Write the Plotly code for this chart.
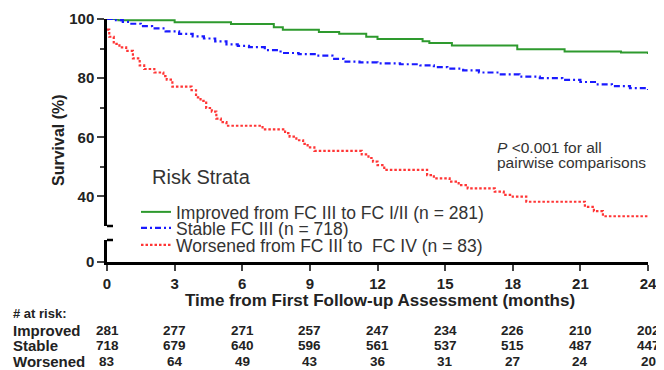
import plotly.graph_objects as go

# ---- data ----
months = [0, 3, 6, 9, 12, 15, 18, 21, 24]

improved_t = [0, 0.5, 3.0, 5.5, 7.4, 7.8, 9.4, 10.3, 11.5, 12.0, 14.0, 14.3, 15.3, 18.2, 20.3, 22.8, 24]
improved_s = [100, 99.6, 98.9, 98.3, 97.2, 96.4, 95.6, 95.0, 94.0, 93.2, 92.5, 91.9, 91.0, 89.8, 89.0, 88.7, 88.2]

stable_t = [0, 0.3, 0.7, 1.0, 1.5, 2.0, 2.6, 3.2, 3.8, 4.3, 4.8, 5.3, 5.8, 6.3, 7.0, 7.7, 8.5, 9.3,
            10.0, 10.5, 11.2, 12.0, 13.0, 13.9, 14.5, 15.1, 15.8, 16.5, 17.4, 18.3, 19.2, 20.2,
            21.0, 21.7, 22.4, 23.2, 24]
stable_s = [100, 99.6, 99.0, 98.4, 97.6, 96.8, 95.8, 95.0, 94.1, 93.4, 92.4, 91.4, 90.9, 90.5, 89.5,
            88.5, 88.1, 87.6, 86.5, 85.6, 85.3, 85.0, 84.7, 84.3, 83.7, 83.2, 82.6, 81.9, 81.3, 80.5,
            80.0, 79.4, 78.7, 77.9, 77.3, 76.6, 76.0]

worsened_t = [0, 0.1, 0.3, 0.55, 0.85, 1.15, 1.45, 1.65, 2.1, 2.5, 2.65, 2.9, 3.75, 3.95, 4.15, 4.4,
              4.65, 4.85, 5.05, 5.3, 6.9, 7.9, 8.1, 8.4, 8.7, 8.9, 9.2, 11.3, 11.6, 11.8, 12.0, 12.3,
              14.2, 14.5, 15.2, 15.6, 16.0, 17.2, 17.6, 18.0, 18.6, 21.2, 21.6, 22.0, 24]
worsened_s = [96.4, 94.0, 91.6, 90.4, 89.2, 86.7, 84.3, 83.1, 81.9, 80.7, 79.5, 77.1, 75.9, 73.5, 72.3,
              69.9, 68.7, 66.3, 65.1, 63.9, 62.7, 61.4, 60.2, 59.0, 57.8, 56.6, 55.4, 54.2, 53.0, 51.8,
              50.6, 49.0, 47.2, 46.1, 45.0, 43.8, 42.7, 41.6, 40.5, 39.9, 38.2, 36.5, 35.0, 33.3, 33.3]

series_names = ["Improved from FC III to FC I/II (n = 281)",
                "Stable FC III (n = 718)",
                "Worsened from FC III to  FC IV (n = 83)"]

risk_labels = ["Improved", "Stable", "Worsened"]
risk_improved = [281, 277, 271, 257, 247, 234, 226, 210, 202]
risk_stable = [718, 679, 640, 596, 561, 537, 515, 487, 447]
risk_worsened = [83, 64, 49, 43, 36, 31, 27, 24, 20]

# ---- figure geometry (page body has an 8px default margin) ----
FONT = "Liberation Sans, Arial, sans-serif"
OFF = 8
W, H = 664 - OFF, 370 - OFF
ML, MR, MT, MB = 107 - OFF, 16, 19 - OFF, 108
PH = H - MT - MB
PW = W - ML - MR

def py(pix):
    """reference-image pixel y -> paper y"""
    return (H - MB - (pix - OFF)) / PH

def px(pix):
    return (pix - OFF - ML) / PW

fig = go.Figure()
fig.add_trace(go.Scatter(x=improved_t, y=improved_s, mode="lines", line_shape="hv",
                         line=dict(color="#2e9a2e", width=2), name=series_names[0],
                         yaxis="y", legend="legend"))
fig.add_trace(go.Scatter(x=stable_t, y=stable_s, mode="lines", line_shape="hv",
                         line=dict(color="#1a1aff", width=2.2, dash="6px,3px,2px,3px"),
                         name=series_names[1], yaxis="y", legend="legend2"))
fig.add_trace(go.Scatter(x=worsened_t, y=worsened_s, mode="lines", line_shape="hv",
                         line=dict(color="#ff3535", width=2.2, dash="2.5px,2px"), name=series_names[2],
                         yaxis="y", legend="legend3"))
# empty trace so that the lower (broken) axis segment is created
fig.add_trace(go.Scatter(x=[], y=[], mode="lines", yaxis="y2", showlegend=False, hoverinfo="skip"))

upper_bottom = py(226)
lower_top = py(240)

def leg(ypix):
    return dict(x=px(136), y=py(ypix), xanchor="left", yanchor="middle",
                bgcolor="rgba(0,0,0,0)", font=dict(size=17.5, color="#333"),
                borderwidth=0, itemwidth=30)

tickfont = dict(size=15, weight="bold", color="#222")
fig.update_layout(
    width=W, height=H, autosize=False,
    margin=dict(l=ML, r=MR, t=MT, b=MB, autoexpand=False),
    paper_bgcolor="white", plot_bgcolor="white",
    font=dict(family=FONT, color="#222"),
    showlegend=True,
    legend=leg(212), legend2=leg(228), legend3=leg(245),
    xaxis=dict(range=[0, 24], tickvals=months, ticks="outside", ticklen=6, tickwidth=2,
               showline=True, linewidth=2.5, linecolor="black", showgrid=False, zeroline=False,
               tickfont=tickfont, anchor="y2"),
    yaxis=dict(domain=[upper_bottom, 1], range=[30, 100], tickvals=[40, 60, 80, 100],
               ticks="outside", ticklen=7, tickwidth=2, showline=True, linewidth=2.5,
               linecolor="black", showgrid=False, zeroline=False,
               minor=dict(tickvals=[50, 70, 90], ticks="outside", ticklen=4, tickwidth=2, showgrid=False),
               tickfont=tickfont, anchor="x"),
    yaxis2=dict(domain=[0, lower_top], range=[0, 7.5], tickvals=[0], ticks="outside", ticklen=7,
                tickwidth=2, showline=True, linewidth=2.5, linecolor="black", showgrid=False,
                zeroline=False, tickfont=tickfont, anchor="x"),
)

# axis break caps
for yv in (upper_bottom, lower_top):
    fig.add_shape(type="line", xref="x", yref="paper", xsizemode="pixel", xanchor=0,
                  x0=-6, x1=6, y0=yv, y1=yv, line=dict(color="black", width=2.5))

def note(text, x, y, size, bold=False, xanchor="center", xref="paper", angle=0, color="#222", xshift=0):
    f = dict(size=size, color=color)
    if bold:
        f["weight"] = "bold"
    return dict(text=text, x=x, y=y, xref=xref, yref="paper", xanchor=xanchor, yanchor="middle",
                showarrow=False, textangle=angle, font=f, xshift=xshift)

ann = []
ann.append(note("Survival (%)", px(58), py(140), 16, bold=True, angle=-90))
ann.append(note("Time from First Follow-up Assessment (months)", px(380), py(300), 17, bold=True))
ann.append(note("Risk Strata", px(150), py(177), 20, xanchor="left", color="#333"))
ann.append(note("<i>P</i> <0.001 for all", px(495), py(147), 15.5, xanchor="left", color="#333"))
ann.append(note("pairwise comparisons", px(495), py(162), 15.5, xanchor="left", color="#333"))
ann.append(note("# at risk:", px(11), py(313), 13, bold=True, xanchor="left"))

rows = [risk_improved, risk_stable, risk_worsened]
row_y = [330, 345, 361]
for lab, vals, yy in zip(risk_labels, rows, row_y):
    ann.append(note(lab, px(11), py(yy), 15, bold=True, xanchor="left"))
    for m, v in zip(months, vals):
        ann.append(note(str(v), m, py(yy), 13.5, bold=True, xref="x"))

fig.update_layout(annotations=ann)
fig.write_html("out.html")
